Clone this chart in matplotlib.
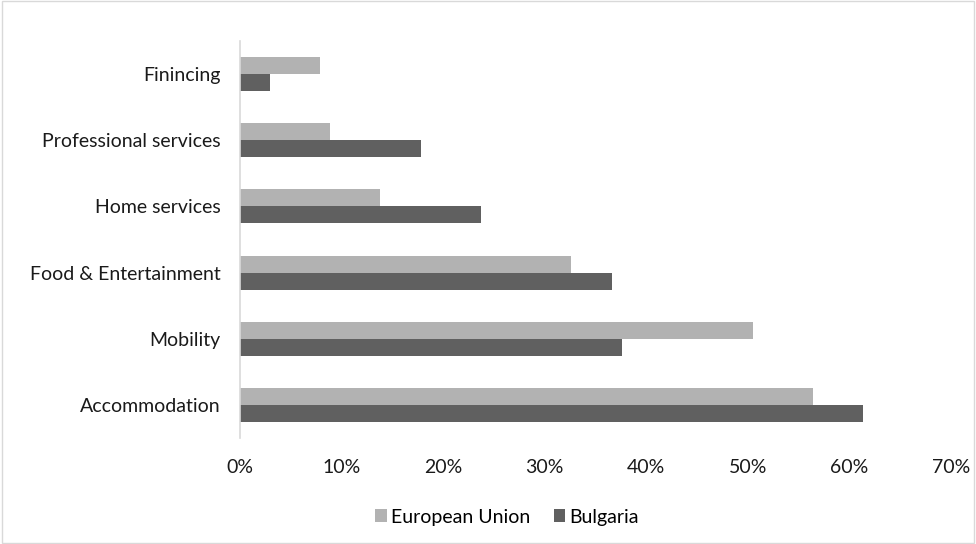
import matplotlib.pyplot as plt
import numpy as np
from matplotlib.patches import Rectangle

categories = ["Accommodation", "Mobility", "Food & Entertainment",
              "Home services", "Professional services", "Finincing"]
eu_values = [56.4, 50.5, 32.6, 13.8, 8.9, 7.9]
bg_values = [61.3, 37.6, 36.6, 23.7, 17.8, 3.0]
x_ticks = [0, 10, 20, 30, 40, 50, 60, 70]

plt.rcParams['font.family'] = ['Lato', 'DejaVu Sans']

fig = plt.figure(figsize=(9.76, 5.44), dpi=100)
ax = fig.add_axes([0.2459, 0.1949, 0.7285, 0.7298])

y = np.arange(len(categories))
h = 0.257
ax.barh(y + h / 2, eu_values, height=h, color="#b2b2b2", label="European Union")
ax.barh(y - h / 2, bg_values, height=h, color="#606060", label="Bulgaria")

ax.set_xlim(0, 70)
ax.set_ylim(-0.5, len(categories) - 0.5)
ax.set_xticks(x_ticks)
ax.set_xticklabels([f"{t}%" for t in x_ticks])
ax.set_yticks(y)
ax.set_yticklabels(categories)
ax.tick_params(axis="both", length=0, labelsize=14, colors="#1a1a1a")
ax.tick_params(axis="x", pad=15)
ax.tick_params(axis="y", pad=14)

for s in ["top", "right", "bottom"]:
    ax.spines[s].set_visible(False)
ax.spines["left"].set_color("#d9d9d9")
ax.spines["left"].set_linewidth(1.2)

fig.legend(loc="center", bbox_to_anchor=(507 / 976, 1 - 517 / 544), ncol=2,
           frameon=False, fontsize=14, handlelength=0.6, handleheight=0.6,
           handletextpad=0.2, columnspacing=1.2)

# chart border
fig.patches.append(Rectangle((0.002, 0.002), 0.996, 0.996, transform=fig.transFigure,
                             fill=False, edgecolor="#d9d9d9", linewidth=1))

fig.savefig("out.png", dpi=100)
